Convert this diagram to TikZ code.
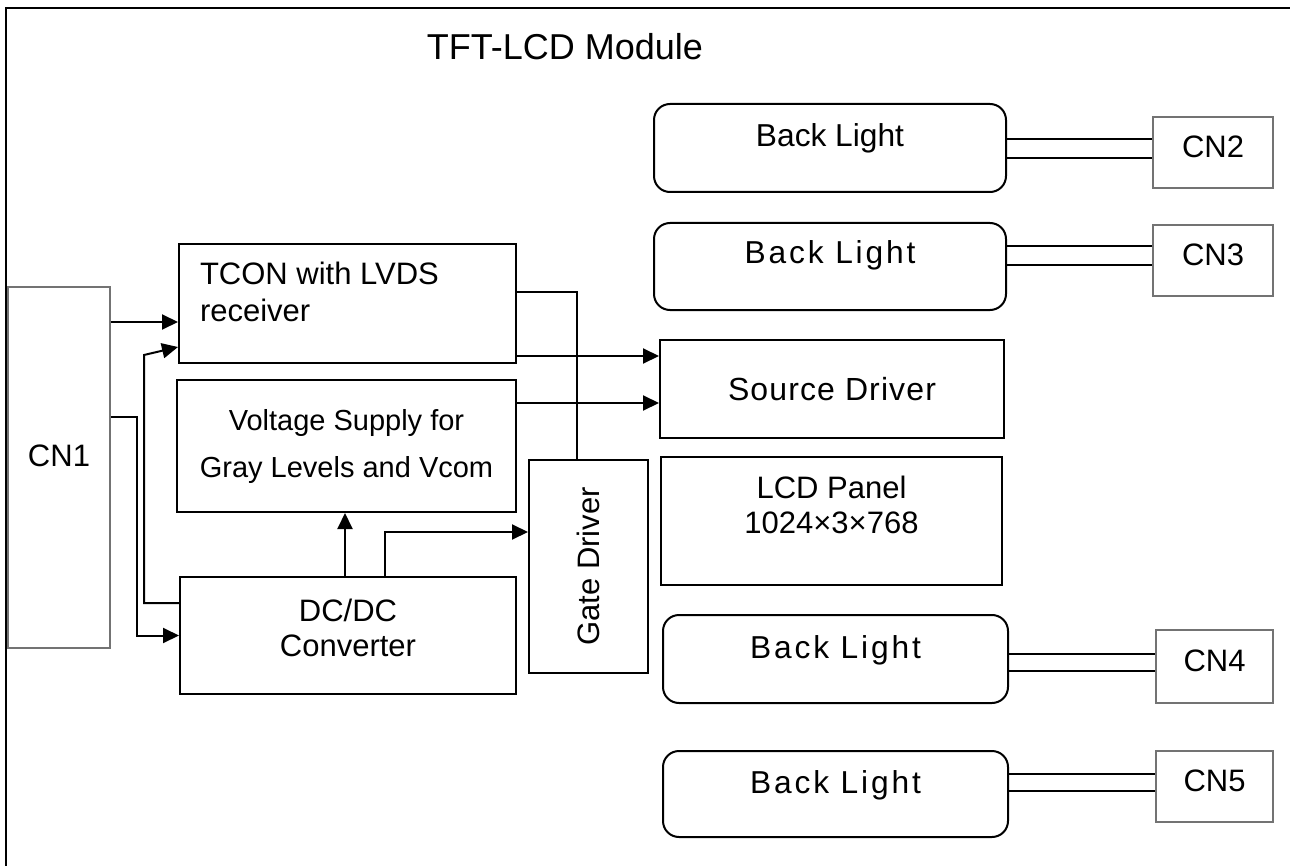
\documentclass[tikz,border=0pt]{standalone}
\usepackage{fontspec}
\setmainfont{Liberation Sans}
\newfontfamily\blfont[LetterSpace=9]{Liberation Sans}
\newfontfamily\srcfont[LetterSpace=3.5]{Liberation Sans}
\usetikzlibrary{arrows.meta,positioning}

\begin{document}
\begin{tikzpicture}[
  x=0.5pt, y=-0.5pt, line width=1pt,
  font=\fontsize{15.5}{18.5}\selectfont, >={Triangle[length=8pt,width=7.5pt]},
  box/.style={draw,inner sep=0pt,align=center},
  bl/.style={draw,rounded corners=8pt,inner sep=0pt,minimum height=44pt},
  cn/.style={draw=black!55,line width=0.8pt,inner sep=0pt},
  txt/.style={inner sep=0pt,align=center}
]
\useasboundingbox (0,0) rectangle (1290,866);
% module outline (open at right and bottom)
\draw[line width=1.2pt] (1290,8) -- (6,8) -- (6,866);
\node[font=\fontsize{18}{21}\selectfont] (title) at (565,47) {TFT-LCD Module};

% connectors
\node[cn,minimum width=51pt,minimum height=180.5pt,label={[name=cn1t,yshift=6pt]center:CN1}] (cn1) at (59,467.5) {};
\foreach \n/\x/\y/\w/\h in {cn2/1213/152.5/60/35.5, cn3/1213/260.5/60/35.5,
                            cn4/1214.5/666.5/58.5/36.5, cn5/1214.5/786.5/58.5/35.5}
  \node[cn,minimum width=\w pt,minimum height=\h pt,label={[yshift=3pt]center:\MakeUppercase{\n}}] (\n) at (\x,\y) {};

% left blocks
\node[box,minimum width=168.5pt,minimum height=59.5pt] (tcon) at (347.5,303.5) {};
\node[txt,anchor=west,align=left] (tcont) at ([xshift=10.5pt,yshift=6pt]tcon.west) {TCON with LVDS\\receiver};
\node[box,minimum width=169.5pt,minimum height=66pt,font=\fontsize{14.5}{23.5}\selectfont] (volt) at (346.5,446)
  {Voltage Supply for\\Gray Levels and Vcom};
\node[box,minimum width=168pt,minimum height=58.5pt] (dc) at (348,635.5) {};
\node[txt,font=\fontsize{15.5}{17.5}\selectfont] (dct) at ([yshift=4pt]dc.center) {DC/DC\\Converter};
\node[box,minimum width=59.5pt,minimum height=106.5pt] (gate) at (588.5,566.5) {\rotatebox{90}{Gate Driver}};

% panel side
\node[box,minimum width=172pt,minimum height=49pt,font=\fontsize{16}{19}\selectfont\srcfont] (src) at (832,389) {Source Driver};
\node[box,minimum width=170.5pt,minimum height=64pt] (lcd) at (831.5,521) {};
\node[txt,font=\fontsize{15.5}{17.5}\selectfont] (lcdt) at ([yshift=8pt]lcd.center) {LCD Panel\\1024×3×768};
\node[bl,minimum width=176pt,label={[name=bl1t,yshift=5pt,font=\fontsize{15.85}{19}\selectfont]center:Back Light}] (bl1) at (830,148) {};
\node[bl,minimum width=176pt,minimum height=43.5pt,label={[name=bl2t,yshift=5.75pt,font=\fontsize{15.85}{19}\selectfont\blfont]center:Back Light}] (bl2) at (830,266.5) {};
\node[bl,minimum width=172.5pt,label={[name=bl3t,yshift=4.5pt,font=\fontsize{15.85}{19}\selectfont\blfont]center:Back Light}] (bl3) at (835.5,659) {};
\node[bl,minimum width=172.5pt,minimum height=43pt,label={[name=bl4t,yshift=4.5pt,font=\fontsize{15.85}{19}\selectfont\blfont]center:Back Light}] (bl4) at (835.5,794) {};

% signal lines
\coordinate (tin1) at ([yshift=-9.25pt]tcon.west);
\coordinate (tin2) at ([yshift=-21.75pt]tcon.west);
\draw[->] (cn1.east |- tin1) -- (tin1);
\draw[->] ([yshift=16.25pt]dc.west) -- ++(-35,0) -- ++(0,-248) -- (tin2);
\draw[->] ([yshift=25.25pt]cn1.east) -- ++(26,0) |- (dc.west);
\draw[->] ([xshift=-1.5pt]dc.north) -- ([xshift=-1.5pt]dc.north |- volt.south);
\coordinate (gin) at ([yshift=17.25pt]gate.west);
\draw[->] ([xshift=18.5pt]dc.north) |- (gin);
\draw ([yshift=5.75pt]tcon.east) -| ([xshift=-5.75pt]gate.north);
\coordinate (tout) at ([yshift=-26.25pt]tcon.east);
\draw[->] (tout) -- (tout -| src.west);
\coordinate (vout) at ([yshift=21.5pt]volt.east);
\draw[->] (vout) -- (vout -| src.west);

% back light cables
\foreach \b/\c/\u/\v in {bl1/cn2/4.5/-5, bl2/cn3/10.25/0.75, bl3/cn4/2.5/-6, bl4/cn5/10/1.5}
  \foreach \s in {\u,\v} {
    \path ([yshift=\s pt]\b.east) coordinate (w);
    \draw (w) -- (w -| \c.west);
  }
\end{tikzpicture}
\end{document}
